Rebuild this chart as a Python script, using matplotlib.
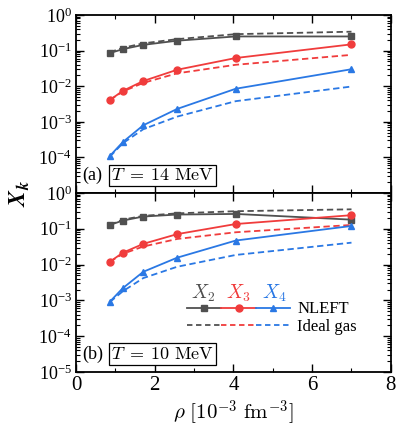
#!/usr/bin/env python3

import numpy as np
import matplotlib
matplotlib.use('Agg')
import matplotlib.pyplot as plt
from matplotlib.lines import Line2D
from matplotlib.legend_handler import HandlerTuple
from matplotlib.ticker import LogLocator, NullFormatter, MultipleLocator


# DATA

rho = [0.86, 1.19, 1.71, 2.57, 4.06, 7.0]

# (a) T = 14 MeV
x2_nleft_14 = [0.085, 0.11, 0.145, 0.19, 0.25, 0.25]
x3_nleft_14 = [0.0041, 0.0074, 0.014, 0.029, 0.062, 0.15]
x4_nleft_14 = [1.1e-4, 2.7e-4, 8.0e-4, 2.3e-3, 8.5e-3, 0.030]
x2_ideal_14 = [0.09, 0.12, 0.16, 0.21, 0.29, 0.34]
x3_ideal_14 = [0.0041, 0.0071, 0.0124, 0.023, 0.040, 0.076]
x4_ideal_14 = [1.05e-4, 2.5e-4, 6.2e-4, 1.4e-3, 3.8e-3, 9.8e-3]

# (b) T = 10 MeV
x2_nleft_10 = [0.128, 0.17, 0.22, 0.25, 0.26, 0.18]
x3_nleft_10 = [0.012, 0.0215, 0.038, 0.071, 0.136, 0.24]
x4_nleft_10 = [9.2e-4, 2.2e-3, 6.3e-3, 0.0156, 0.047, 0.12]
x2_ideal_10 = [0.13, 0.18, 0.23, 0.27, 0.31, 0.35]
x3_ideal_10 = [0.012, 0.020, 0.032, 0.052, 0.080, 0.128]
x4_ideal_10 = [9.0e-4, 1.8e-3, 4.2e-3, 8.7e-3, 0.0186, 0.041]

species = ['$X_2$', '$X_3$', '$X_4$']
colors = ['#505050', '#f03c3c', '#2a78e4']
markers = ['s', 'o', '^']


# FUNCTIONS

def style_axis(ax):
    ax.set_yscale('log')
    ax.set_xlim(0, 8)
    ax.set_ylim(1e-5, 1)
    ax.xaxis.set_major_locator(MultipleLocator(2))
    ax.xaxis.set_minor_locator(MultipleLocator(1))
    ax.yaxis.set_major_locator(LogLocator(base=10, numticks=10))
    ax.yaxis.set_minor_locator(LogLocator(base=10, subs=np.arange(2, 10), numticks=20))
    ax.yaxis.set_minor_formatter(NullFormatter())
    ax.tick_params(which='both', direction='in', top=True, right=True)
    ax.tick_params(which='major', length=6, width=1.0, labelsize=13, pad=3)
    ax.tick_params(which='minor', length=3, width=0.8)
    ax.tick_params(axis='x', labelsize=15)
    for s in ax.spines.values():
        s.set_linewidth(1.3)


def draw_panel(ax, nleft, ideal, tag, temp):
    for k in range(3):
        ax.plot(rho, ideal[k], '--', color=colors[k], lw=1.3, dashes=(3.5, 2))
        ax.plot(rho, nleft[k], '-', color=colors[k], lw=1.3,
                marker=markers[k], ms=5)
    style_axis(ax)
    ax.text(0.02, 0.1, tag, transform=ax.transAxes, fontsize=13, va='center')
    ax.text(0.112, 0.1, temp, transform=ax.transAxes, fontsize=13, va='center',
            bbox=dict(boxstyle='square,pad=0.12', fc='white', ec='black', lw=0.9))


def add_legend(ax):
    solid = tuple(Line2D([], [], color=c, marker=m, ms=5, lw=1.3)
                  for c, m in zip(colors, markers))
    dashed = tuple(Line2D([], [], color=c, ls='--', dashes=(3, 2), lw=1.3)
                   for c in colors)
    leg = ax.legend([solid, dashed], ['NLEFT', 'Ideal gas'],
                    handler_map={tuple: HandlerTuple(ndivide=None, pad=0.0)},
                    handlelength=6.2, handletextpad=0.4, labelspacing=0.1,
                    frameon=False, fontsize=12,
                    loc='upper left', bbox_to_anchor=(0.305, 0.478))
    for k, lab in enumerate(species):
        ax.text(0.403 + 0.113 * k, 0.44, lab, color=colors[k],
                transform=ax.transAxes, fontsize=14, ha='center', va='center')
    return leg


def create_plot():
    plt.rcParams['font.family'] = ['Liberation Serif', 'DejaVu Serif']
    plt.rcParams['mathtext.fontset'] = 'cm'

    fig = plt.figure(figsize=(3.98, 4.34), dpi=100)
    ax_a = fig.add_axes([0.191, 0.5553, 0.791, 0.4101])
    ax_b = fig.add_axes([0.191, 0.1429, 0.791, 0.4124])

    draw_panel(ax_a, [x2_nleft_14, x3_nleft_14, x4_nleft_14],
               [x2_ideal_14, x3_ideal_14, x4_ideal_14], '(a)', r'$T\;=\;14\ \mathrm{MeV}$')
    draw_panel(ax_b, [x2_nleft_10, x3_nleft_10, x4_nleft_10],
               [x2_ideal_10, x3_ideal_10, x4_ideal_10], '(b)', r'$T\;=\;10\ \mathrm{MeV}$')

    ax_a.set_yticks([1e-4, 1e-3, 1e-2, 1e-1, 1e0])
    ax_a.set_ylim(1e-5, 1)
    ax_a.tick_params(axis='x', labelbottom=False)

    add_legend(ax_b)
    ax_b.set_xlabel(r'$\rho\ [10^{-3}\ \mathrm{fm}^{-3}]$', fontsize=15, labelpad=2)
    fig.text(0.05, 0.555, r'$\mathbfit{X}_{\mathbfit{k}}$', rotation=90,
             fontsize=17, ha='center', va='center')

    fig.savefig('out.png', dpi=100)
    plt.close(fig)


if __name__ == "__main__":
    create_plot()
